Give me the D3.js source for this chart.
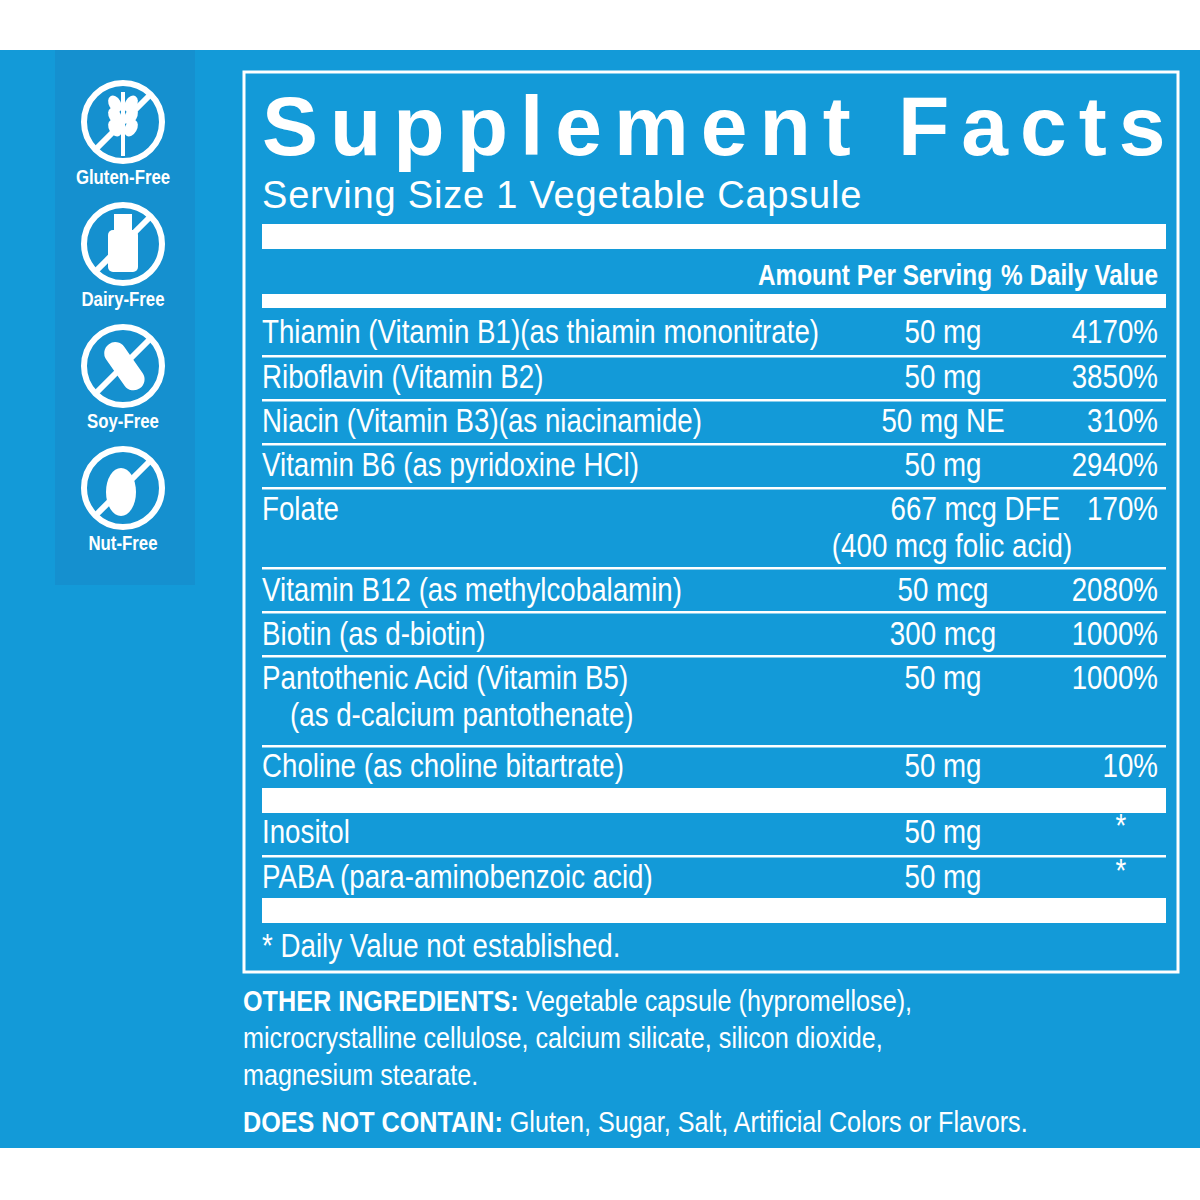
<!DOCTYPE html>
<html><head><meta charset="utf-8">
<script src="https://cdn.jsdelivr.net/npm/d3@7"></script>
<style>body{margin:0;background:#fff}</style>
</head><body>
<svg width="1200" height="1200"></svg>
<script>
var nutrients = ["Thiamin (Vitamin B1)(as thiamin mononitrate)", "Riboflavin (Vitamin B2)", "Niacin (Vitamin B3)(as niacinamide)",
  "Vitamin B6 (as pyridoxine HCl)", "Folate", "Vitamin B12 (as methylcobalamin)", "Biotin (as d-biotin)",
  "Pantothenic Acid (Vitamin B5)", "Choline (as choline bitartrate)", "Inositol", "PABA (para-aminobenzoic acid)"];
var amounts = ["50 mg", "50 mg", "50 mg NE", "50 mg", "667 mcg DFE", "50 mcg", "300 mcg", "50 mg", "50 mg", "50 mg", "50 mg"];
var dailyValues = ["4170%", "3850%", "310%", "2940%", "170%", "2080%", "1000%", "1000%", "10%", "*", "*"];
var secondLines = ["", "", "", "", "(400 mcg folic acid)", "", "", "(as d-calcium pantothenate)", "", "", ""];
var badges = ["Gluten-Free", "Dairy-Free", "Soy-Free", "Nut-Free"];

var blue = "#139ad8";
var narrow = 0.84;
var svg = d3.select("svg");
svg.append("rect").attr("x", 0).attr("y", 50).attr("width", 1200).attr("height", 1098).attr("fill", blue);
svg.append("rect").attr("x", 55).attr("y", 50).attr("width", 140).attr("height", 535).attr("fill", "#1590cf");

function txt(x, y, s, size, opts) {
  opts = opts || {};
  var sx = opts.wide ? 1 : narrow;
  var g = (opts.parent || svg).append("g").attr("transform", "translate(" + x + "," + y + ") scale(" + sx + ",1)");
  return g.append("text").attr("fill", "#fff")
    .attr("font-family", "Liberation Sans, Arial, sans-serif").attr("font-size", size)
    .attr("font-weight", opts.bold ? "bold" : "normal").attr("text-anchor", opts.anchor || "start")
    .attr("letter-spacing", opts.ls || 0).text(s);
}

// badges
var bg = svg.selectAll(".badge").data(badges).enter().append("g")
  .attr("transform", function (d, i) { return "translate(123," + (122 + i * 122) + ")"; });
bg.append("circle").attr("r", 39).attr("fill", "none").attr("stroke", "#fff").attr("stroke-width", 6);
bg.append("line").attr("x1", -27).attr("y1", 27).attr("x2", 27).attr("y2", -27).attr("stroke", "#fff").attr("stroke-width", 6);
bg.each(function (d, i) {
  var g = d3.select(this);
  if (i == 0) {
    g.append("line").attr("x1", 0).attr("y1", -30).attr("x2", 0).attr("y2", 34).attr("stroke", "#fff").attr("stroke-width", 4);
    [-18, -6, 6].forEach(function (y) {
      g.append("ellipse").attr("cx", -8).attr("cy", y).attr("rx", 6).attr("ry", 9).attr("fill", "#fff").attr("transform", "rotate(-30,-8," + y + ")");
      g.append("ellipse").attr("cx", 8).attr("cy", y).attr("rx", 6).attr("ry", 9).attr("fill", "#fff").attr("transform", "rotate(30,8," + y + ")");
    });
  } else if (i == 1) {
    g.append("rect").attr("x", -15).attr("y", -14).attr("width", 30).attr("height", 42).attr("rx", 5).attr("fill", "#fff");
    g.append("rect").attr("x", -9).attr("y", -30).attr("width", 18).attr("height", 16).attr("fill", "#fff");
  } else if (i == 2) {
    g.append("rect").attr("x", -10).attr("y", -26).attr("width", 22).attr("height", 54).attr("rx", 11).attr("fill", "#fff").attr("transform", "rotate(-35)");
  } else {
    g.append("ellipse").attr("cx", -2).attr("cy", 4).attr("rx", 15).attr("ry", 24).attr("fill", "#fff");
  }
});
bg.each(function (d) { txt(0, 62, d, 20, {parent: d3.select(this), bold: true, anchor: "middle"}); });

// label box
svg.append("rect").attr("x", 244).attr("y", 72).attr("width", 934).attr("height", 900)
  .attr("fill", "none").attr("stroke", "#fff").attr("stroke-width", 3);
txt(262, 155, "Supplement Facts", 84, {wide: true, bold: true, ls: 12});
txt(262, 208, "Serving Size 1 Vegetable Capsule", 38, {wide: true, ls: 0.8});
function band(y, h) { svg.append("rect").attr("x", 262).attr("y", y).attr("width", 904).attr("height", h).attr("fill", "#fff"); }
band(224, 25);
txt(875, 285, "Amount Per Serving", 29, {bold: true, anchor: "middle"});
txt(1158, 285, "% Daily Value", 29, {bold: true, anchor: "end"});
band(294, 14);

var rowY = [332, 377, 421, 465, 509, 590, 634, 678, 766, 832, 877];
var lineY = [355, 399, 443, 487, 567, 611, 655, 745, null, 855, null];
nutrients.forEach(function (n, i) {
  var y = rowY[i] + 11;
  txt(262, y, n, 33);
  txt(i == 4 ? 1060 : 943, y, amounts[i], 33, {anchor: i == 4 ? "end" : "middle"});
  if (dailyValues[i] == "*") txt(1121, y - 6, "*", 33, {anchor: "middle"});
  else txt(1158, y, dailyValues[i], 33, {anchor: "end"});
  if (secondLines[i]) txt(i == 4 ? 952 : 290, y + 37, secondLines[i], 33, {anchor: i == 4 ? "middle" : "start"});
  if (lineY[i]) svg.append("rect").attr("x", 262).attr("y", lineY[i]).attr("width", 904).attr("height", 2.5).attr("fill", "#fff");
});
band(788, 25);
band(898, 25);
txt(262, 957, "* Daily Value not established.", 33);

var ingr = [["OTHER INGREDIENTS: ", "Vegetable capsule (hypromellose),"], ["", "microcrystalline cellulose, calcium silicate, silicon dioxide,"], ["", "magnesium stearate."]];
ingr.forEach(function (l, i) {
  var t = txt(243, 1011 + i * 37, "", 30);
  t.append("tspan").attr("font-weight", "bold").text(l[0]);
  t.append("tspan").text(l[1]);
});
var t = txt(243, 1132, "", 30);
t.append("tspan").attr("font-weight", "bold").text("DOES NOT CONTAIN: ");
t.append("tspan").text("Gluten, Sugar, Salt, Artificial Colors or Flavors.");
</script>
</body></html>
